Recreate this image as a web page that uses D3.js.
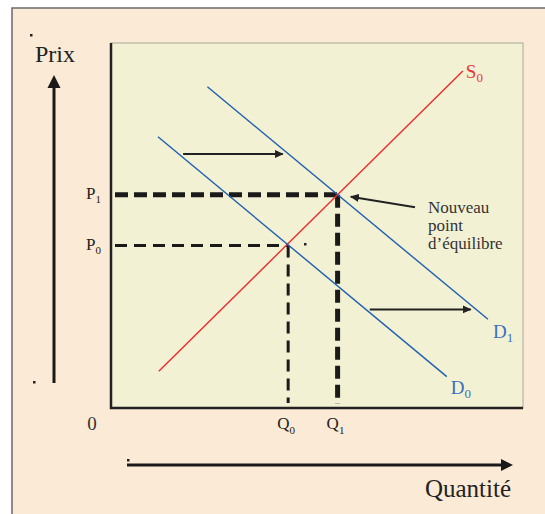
<!DOCTYPE html>
<html>
<head>
	<meta charset="UTF-8">
	<script src="https://d3js.org/d3.v7.min.js"></script>
	<style>
		body{ margin:0; background-color:#ffffff; }
		text{ font-family:"Liberation Serif","Times New Roman",serif; }
	</style>
</head>
<body>
	<script type="text/javascript">
		// courbes (quantite, prix) en unites du graphique 0..100
		var offreS0 = [[11.6, 10.1], [85.4, 92.3]];
		var demandeD0 = [[11.4, 74.3], [81.5, 8.6]];
		var demandeD1 = [[23.4, 88.0], [91.5, 24.3]];
		// equilibres
		var equilibre0 = [43.0, 44.5];
		var equilibre1 = [55.0, 58.4];
		// fleches de deplacement : depart, arrivee, prix
		var deplacements = [[17.5, 41.7, 69.6], [62.8, 87.3, 27.0]];
		// fleche vers le nouveau point
		var flecheNote = [[73.8, 55.0], [58.2, 57.9]];
		var noteLignes = ["Nouveau", "point", "d\u2019\u00e9quilibre"];
		var nomsCourbes = [["S", "0"], ["D", "0"], ["D", "1"]];
		var nomsPrix = [["P", "0"], ["P", "1"]];
		var nomsQuantite = [["Q", "0"], ["Q", "1"]];

		var w = 545, h = 514;
		var x0 = 111, x1 = 523, yTop = 43, yBas = 408;

		var x = d3.scaleLinear().domain([0, 100]).range([x0, x1]);
		var y = d3.scaleLinear().domain([0, 100]).range([yBas, yTop]);

		var svg = d3.select("body").append("svg").attr("width", w).attr("height", h);

		var defs = svg.append("defs");
		defs.append("marker").attr("id", "tete").attr("viewBox", "0 0 10 10")
			.attr("refX", 9).attr("refY", 5).attr("markerWidth", 9).attr("markerHeight", 9)
			.attr("markerUnits", "userSpaceOnUse").attr("orient", "auto")
			.append("path").attr("d", "M0,0.5 L10,5 L0,9.5 Z").attr("fill", "#222");

		//fond
		svg.append("rect").attr("x", 12).attr("y", 8).attr("width", 560).attr("height", 540)
			.attr("fill", "#fbead5").attr("stroke", "#6a6a6a").attr("stroke-width", 1.5);
		svg.append("rect").attr("x", x0).attr("y", yTop).attr("width", x1 - x0).attr("height", yBas - yTop)
			.attr("fill", "#f3f1d3").attr("stroke", "#a8a89c").attr("stroke-width", 1);
		svg.append("path").attr("d", "M" + x0 + "," + yTop + " L" + x0 + "," + yBas + " L" + x1 + "," + yBas)
			.attr("fill", "none").attr("stroke", "#222").attr("stroke-width", 2.5);

		//axes fleches
		svg.append("line").attr("x1", 54).attr("y1", 383).attr("x2", 54).attr("y2", 86)
			.attr("stroke", "#1a1a1a").attr("stroke-width", 3);
		svg.append("path").attr("d", "M54,75 L60.5,88 L47.5,88 Z").attr("fill", "#1a1a1a");
		svg.append("line").attr("x1", 127).attr("y1", 465).attr("x2", 502).attr("y2", 465)
			.attr("stroke", "#1a1a1a").attr("stroke-width", 3);
		svg.append("path").attr("d", "M513,465 L501,459 L501,471 Z").attr("fill", "#1a1a1a");

		svg.append("text").attr("x", 35).attr("y", 62).style("font-size", "24px").attr("fill", "#222").text("Prix");
		svg.append("text").attr("x", 511).attr("y", 497).attr("text-anchor", "end").style("font-size", "25px").attr("fill", "#222").text("Quantit\u00e9");
		svg.append("text").attr("x", 92).attr("y", 430).attr("text-anchor", "middle").style("font-size", "19px").attr("fill", "#333").text("0");

		//pointilles
		svg.append("line").attr("x1", x0 + 4).attr("y1", y(equilibre0[1])).attr("x2", x(equilibre0[0])).attr("y2", y(equilibre0[1]))
			.attr("stroke", "#1a1a1a").attr("stroke-width", 3).attr("stroke-dasharray", "12,7");
		svg.append("line").attr("x1", x(equilibre0[0])).attr("y1", y(equilibre0[1])).attr("x2", x(equilibre0[0])).attr("y2", yBas - 5)
			.attr("stroke", "#1a1a1a").attr("stroke-width", 3).attr("stroke-dasharray", "12,7");
		svg.append("line").attr("x1", x0 + 4).attr("y1", y(equilibre1[1])).attr("x2", x(equilibre1[0])).attr("y2", y(equilibre1[1]))
			.attr("stroke", "#1a1a1a").attr("stroke-width", 5).attr("stroke-dasharray", "13,6");
		svg.append("line").attr("x1", x(equilibre1[0])).attr("y1", y(equilibre1[1])).attr("x2", x(equilibre1[0])).attr("y2", yBas - 4)
			.attr("stroke", "#1a1a1a").attr("stroke-width", 5).attr("stroke-dasharray", "13,6");

		//courbes
		var ligne = d3.line().x(function(d){ return x(d[0]); }).y(function(d){ return y(d[1]); });
		svg.append("path").attr("d", ligne(offreS0)).attr("stroke", "#ee2b2f").attr("stroke-width", 1.4).attr("fill", "none");
		svg.append("path").attr("d", ligne(demandeD0)).attr("stroke", "#1d5fb0").attr("stroke-width", 1.4).attr("fill", "none");
		svg.append("path").attr("d", ligne(demandeD1)).attr("stroke", "#1d5fb0").attr("stroke-width", 1.4).attr("fill", "none");

		//fleches
		deplacements.forEach(function(d){
			svg.append("line").attr("x1", x(d[0])).attr("y1", y(d[2])).attr("x2", x(d[1])).attr("y2", y(d[2]))
				.attr("stroke", "#222").attr("stroke-width", 2).attr("marker-end", "url(#tete)");
		});
		svg.append("line").attr("x1", x(flecheNote[0][0])).attr("y1", y(flecheNote[0][1]))
			.attr("x2", x(flecheNote[1][0])).attr("y2", y(flecheNote[1][1]))
			.attr("stroke", "#222").attr("stroke-width", 2).attr("marker-end", "url(#tete)");

		//noms des courbes
		var finCourbes = [offreS0[1], demandeD0[1], demandeD1[1]];
		var decalages = [[3, 7], [4, 17], [5, 19]];
		var couleurs = ["#e8353b", "#3a6fc0", "#3a6fc0"];
		nomsCourbes.forEach(function(n, i){
			var t = svg.append("text").attr("x", x(finCourbes[i][0]) + decalages[i][0]).attr("y", y(finCourbes[i][1]) + decalages[i][1])
				.attr("fill", couleurs[i]).style("font-size", "19px");
			t.append("tspan").text(n[0]);
			t.append("tspan").attr("dy", 4).style("font-size", "13px").text(n[1]);
		});

		//etiquettes P et Q
		[equilibre0, equilibre1].forEach(function(e, i){
			var tp = svg.append("text").attr("x", 86).attr("y", y(e[1]) + 4).attr("fill", "#222").style("font-size", "17px");
			tp.append("tspan").text(nomsPrix[i][0]);
			tp.append("tspan").attr("dy", 4).style("font-size", "11px").text(nomsPrix[i][1]);
			var tq = svg.append("text").attr("x", x(e[0]) - 11).attr("y", 429).attr("fill", "#222").style("font-size", "17px");
			tq.append("tspan").text(nomsQuantite[i][0]);
			tq.append("tspan").attr("dy", 5).style("font-size", "11px").text(nomsQuantite[i][1]);
		});

		//note
		svg.append("g").selectAll("text").data(noteLignes).enter().append("text")
			.attr("x", 428).attr("y", function(d, i){ return 213 + i * 18; })
			.attr("fill", "#333").style("font-size", "17px").text(function(d){ return d; });

		//petits points
		[[30, 34], [33, 381], [304, 243], [127, 459]].forEach(function(p){
			svg.append("rect").attr("x", p[0]).attr("y", p[1]).attr("width", 2.5).attr("height", 2.5).attr("fill", "#222");
		});
	</script>
</body>
</html>
